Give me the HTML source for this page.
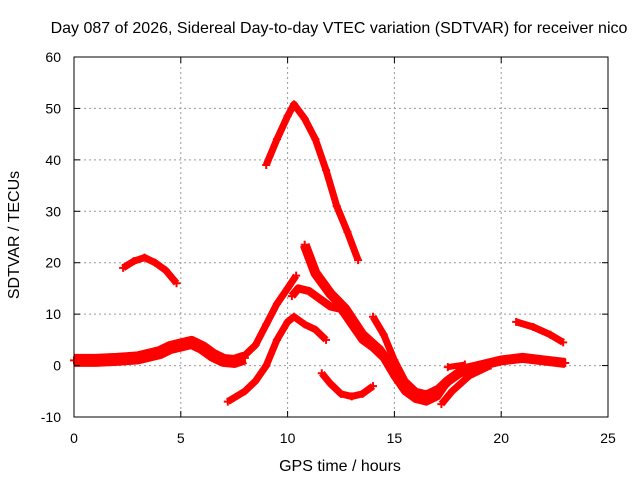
<!DOCTYPE html>
<html><head><meta charset="utf-8"><style>
body{margin:0;background:#fff}
svg text{font-family:"Liberation Sans",sans-serif;font-size:14px;fill:#000}
</style></head><body>
<svg id="chart" width="640" height="480" viewBox="0 0 640 480" xmlns="http://www.w3.org/2000/svg">
<rect width="640" height="480" fill="#fff"/>
<g id="grid"></g>
<g id="series"></g>
<rect x="74" y="57" width="534" height="360" fill="none" stroke="#000" stroke-width="1"/>
<g id="ticks"></g>
<text x="339" y="33" text-anchor="middle" style="font-size:16px">Day 087 of 2026, Sidereal Day-to-day VTEC variation (SDTVAR) for receiver nico</text>
<text x="340" y="471" text-anchor="middle" style="font-size:16px">GPS time / hours</text>
<text transform="translate(19,235) rotate(-90)" text-anchor="middle" style="font-size:16px">SDTVAR / TECUs</text>
</svg>
<script>
const xTicks=[0,5,10,15,20,25];
const yTicks=[-10,0,10,20,30,40,50,60];
const trackBase=[[0,1],[1,1],[2,1.2],[3,1.5],[4,2.5],[4.5,3.5],[5,4],[5.5,4.5],[6,3.5],[6.5,2],[7,1],[7.5,0.8],[8,1.5]];
const trackEvening=[[2.3,19],[2.8,20.3],[3.3,21],[3.8,20],[4.3,18.5],[4.8,16]];
const trackPeak=[[9,39],[9.5,44],[10,48.5],[10.3,50.8],[10.8,48],[11.3,44],[11.8,38],[12.3,31],[12.8,26],[13.3,20.5]];
const trackRise=[[7.3,1],[8,2],[8.5,4],[9,8],[9.5,12],[10,15],[10.4,17.5]];
const trackMid=[[10.2,13.5],[10.5,15],[11,14.5],[11.5,13],[12,11.5],[12.5,11],[13,8],[13.5,5],[14,3.5],[14.5,1.5],[15,-2],[15.5,-5],[16,-6.5],[16.5,-7],[17,-6],[17.5,-3]];
const trackLow=[[7.2,-7],[8,-5],[8.5,-3],[9,0],[9.5,5],[10,8.5],[10.3,9.5],[10.8,8],[11.3,7],[11.8,5]];
const trackLong=[[10.8,23.5],[11.3,18],[12,14],[12.7,11],[13.5,6],[14.3,3],[15,-1],[15.5,-4],[16,-5.5],[16.5,-6],[17,-5],[17.5,-3],[18,-1.5],[18.5,-0.5],[19,0],[20,1],[21,1.5],[22,1],[23,0.5]];
const trackLate=[[14,9.5],[14.5,6],[15,1],[15.5,-3],[16,-5],[16.5,-5.5],[17,-4.5]];
const trackDip=[[11.6,-1.5],[12,-3.5],[12.5,-5.5],[13,-6],[13.5,-5.5],[14,-4]];
const trackTail=[[17.2,-7.5],[17.7,-5],[18.5,-2],[19.5,0]];
const trackStub=[[17.5,-0.3],[18.3,0.2]];
const trackNight=[[20.7,8.5],[21.5,7.5],[22.3,6],[22.9,4.5]];
const tracks=[[trackBase,13],[trackEvening,7],[trackPeak,7],[trackRise,7],[trackMid,8],[trackLow,7],[trackLong,10],[trackLate,7],[trackDip,7],[trackTail,7],[trackStub,6],[trackNight,7]];
const NS="http://www.w3.org/2000/svg";
const xs=h=>74+h*534/25, ys=v=>417-(v+10)*360/70;
const grid=document.getElementById('grid'),ticks=document.getElementById('ticks'),ser=document.getElementById('series');
function mk(tag,attrs,parent){const e=document.createElementNS(NS,tag);for(const k in attrs)e.setAttribute(k,attrs[k]);parent.appendChild(e);return e;}
xTicks.forEach(t=>{const x=xs(t);
 if(t>0&&t<25){const l=mk('line',{x1:x,x2:x,y1:57,y2:417,stroke:'#999','stroke-dasharray':'2,3'},grid);
 
 }
 mk('line',{x1:x,x2:x,y1:417,y2:411,stroke:'#000'},ticks);mk('line',{x1:x,x2:x,y1:57,y2:63,stroke:'#000'},ticks);
 const tx=mk('text',{x:x,y:443,'text-anchor':'middle'},ticks);tx.textContent=t;
 
 });
yTicks.forEach(t=>{const y=ys(t);
 if(t>-10&&t<60){const l=mk('line',{x1:74,x2:608,y1:y,y2:y,stroke:'#999','stroke-dasharray':'2,3'},grid);
 
 }
 mk('line',{x1:74,x2:80,y1:y,y2:y,stroke:'#000'},ticks);mk('line',{x1:608,x2:602,y1:y,y2:y,stroke:'#000'},ticks);
 const tx=mk('text',{x:61,y:y+5,'text-anchor':'end'},ticks);tx.textContent=t;
 
 });
tracks.forEach(([pts,w])=>{
 const p=mk('polyline',{points:pts.map(d=>xs(d[0])+','+ys(d[1])).join(' '),fill:'none',stroke:'#f00','stroke-width':w,'stroke-linejoin':'round','stroke-linecap':'butt'},ser);
 
 
 pts.forEach(d=>{const x=xs(d[0]),y=ys(d[1]);
  const m=mk('path',{d:`M${x-4},${y}h8M${x},${y-4}v8`,stroke:'#f00','stroke-width':2},ser);
  
  });
});
</script>
</body></html>
